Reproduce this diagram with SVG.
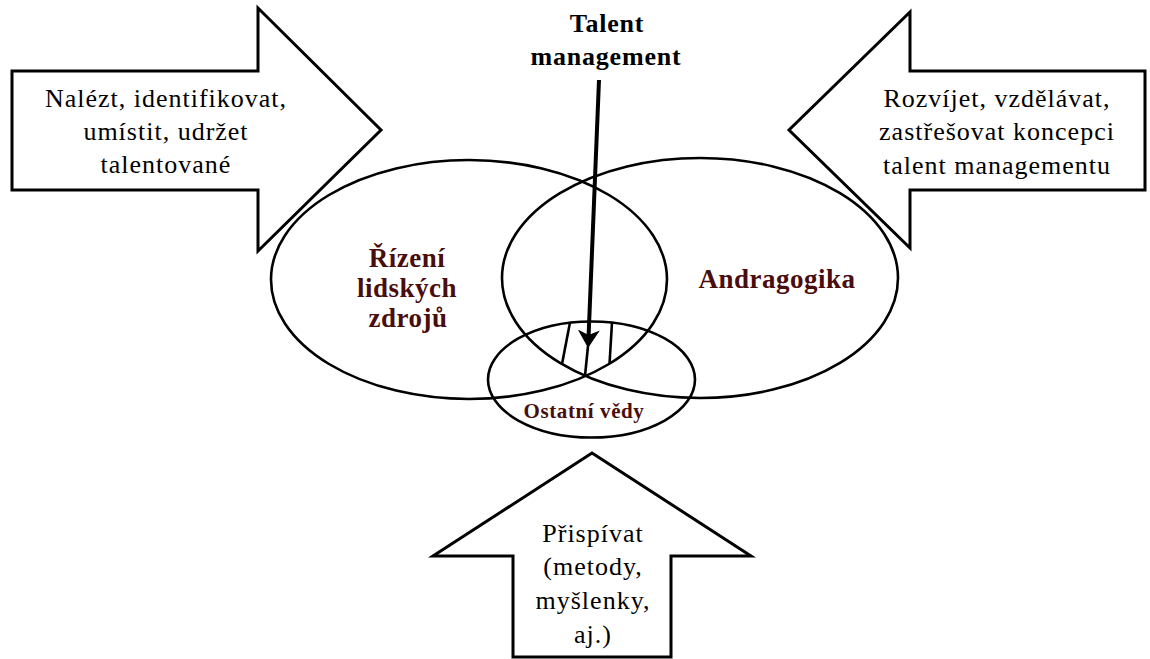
<svg xmlns="http://www.w3.org/2000/svg" width="1150" height="659" viewBox="0 0 1150 659">
  <style>
    .arrowshape { fill: #ffffff; stroke: #000000; stroke-width: 3; stroke-linejoin: miter; }
    .set { fill: none; stroke: #000000; stroke-width: 2.6; }
    .txt { font-family: "Liberation Serif", "Times New Roman", serif; font-size: 26px; fill: #000000; text-anchor: middle; letter-spacing: 1px; }
    .lbl { font-family: "Liberation Serif", "Times New Roman", serif; font-size: 27px; font-weight: bold; fill: #4a0d0d; text-anchor: middle; letter-spacing: 0.5px; }
    .ttl { font-family: "Liberation Serif", "Times New Roman", serif; font-size: 26px; font-weight: bold; fill: #000000; text-anchor: middle; letter-spacing: 0.8px; }
    .small { font-family: "Liberation Serif", "Times New Roman", serif; font-size: 21px; font-weight: bold; fill: #4a0d0d; text-anchor: middle; letter-spacing: 0.6px; }
    .conn { stroke: #000000; fill: none; }
  </style>
  <defs>
    <marker id="head" viewBox="0 0 18 22" refX="8" refY="11" markerWidth="18" markerHeight="22" markerUnits="userSpaceOnUse" orient="auto">
      <path d="M0,0 L18,11 L0,22 L5,11 Z" fill="#000000"/>
    </marker>
  </defs>
  <rect x="0" y="0" width="1150" height="659" fill="#ffffff"/>

  <g id="arrow-left">
    <polygon class="arrowshape" points="12,71 258,71 258,8 381,130 258,251 258,190 12,190"/>
    <text class="txt" x="166" y="107">Nalézt, identifikovat,</text>
    <text class="txt" x="166" y="140">umístit, udržet</text>
    <text class="txt" x="166" y="173">talentované</text>
  </g>

  <g id="arrow-right">
    <polygon class="arrowshape" points="1145,71 910,71 910,12 789,130 910,248 910,190 1145,190"/>
    <text class="txt" x="997" y="107">Rozvíjet, vzdělávat,</text>
    <text class="txt" x="997" y="140">zastřešovat koncepci</text>
    <text class="txt" x="997" y="174">talent managementu</text>
  </g>

  <g id="arrow-bottom">
    <polygon class="arrowshape" points="513,657 513,556 433,556 592,453 751,556 671,556 671,657"/>
    <text class="txt" x="593" y="542">Přispívat</text>
    <text class="txt" x="593" y="575">(metody,</text>
    <text class="txt" x="593" y="609">myšlenky,</text>
    <text class="txt" x="593" y="643">aj.)</text>
  </g>

  <g id="set-hr">
    <ellipse class="set" cx="469" cy="279.5" rx="198" ry="119.5"/>
    <text class="lbl" x="407" y="267">Řízení</text>
    <text class="lbl" x="407" y="297">lidských</text>
    <text class="lbl" x="408" y="327">zdrojů</text>
  </g>

  <g id="set-andragogika">
    <ellipse class="set" cx="700" cy="278" rx="198" ry="120"/>
    <text class="lbl" x="777" y="288">Andragogika</text>
  </g>

  <g id="set-other">
    <ellipse class="set" cx="591.5" cy="379.5" rx="103.5" ry="58"/>
    <text class="small" x="584" y="418">Ostatní vědy</text>
  </g>

  <g id="talent-management">
    <text class="ttl" x="607" y="32">Talent</text>
    <text class="ttl" x="606" y="65">management</text>
  </g>

  <g id="connectors">
    <line class="conn" x1="599" y1="80" x2="588.5" y2="338" stroke-width="4" marker-end="url(#head)"/>
    <line class="conn" x1="588" y1="346" x2="585" y2="376" stroke-width="2.6"/>
    <line class="conn" x1="570" y1="322.5" x2="562" y2="364" stroke-width="2.6"/>
    <line class="conn" x1="612" y1="322.5" x2="609.5" y2="364" stroke-width="2.6"/>
  </g>
</svg>
